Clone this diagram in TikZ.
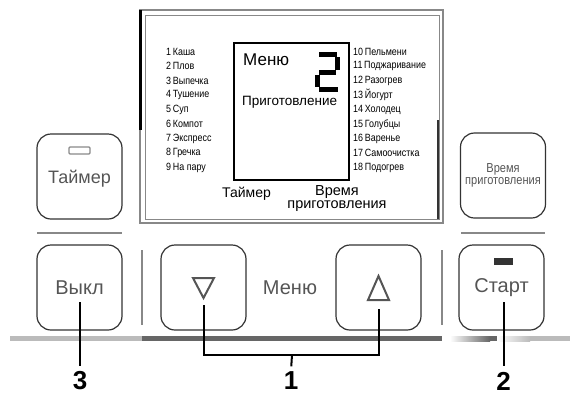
\documentclass[tikz,border=0pt]{standalone}
\usepackage{fontspec}
\setmainfont{Liberation Sans}
\newfontfamily\narrowfont{Liberation Sans}[FakeStretch=0.85]
\usepackage{xcolor}
\usepackage{tikz}
\usetikzlibrary{positioning}

\definecolor{btnline}{HTML}{333333}
\definecolor{btntext}{HTML}{555555}
\definecolor{bandlight}{HTML}{BBBBBB}
\definecolor{banddark}{HTML}{666666}
\definecolor{sepgray}{HTML}{888888}

\tikzset{
    btn/.style={draw=btnline, line width=1.2pt, rounded corners=14pt,
        minimum width=85pt, minimum height=85pt, inner sep=0pt,
        text=btntext, font=\fontsize{20}{22}\selectfont},
    listitem/.style={anchor=west, inner sep=0pt,
        font=\narrowfont\fontsize{10.5}{12}\selectfont},
    callout/.style={inner sep=1.5pt, font=\bfseries\fontsize{26}{27}\selectfont},
    leader/.style={line width=2pt, black, shorten >=4pt},
    segment/.style={line width=5pt, black}
}

\begin{document}
\begin{tikzpicture}[x=1pt, y=-1pt]
    \useasboundingbox (0,0) rectangle (570,397);

        % Display frame
        \draw[sepgray, line width=1.2pt] (140,10) rectangle (443,223);
        \draw[sepgray, line width=1pt] (145,15) rectangle (439,219);
        \draw[black, line width=3pt] (140,10) -- (140,130);
        \draw[btnline, line width=1.5pt] (438,120) -- (438,219);

        % Screen
        \draw[black, line width=1.1pt] (234,43) rectangle (349,180);
        \node[anchor=base west, inner sep=0pt, font=\fontsize{17}{19}\selectfont]
            (menu) at (243,65) {Меню};
        \node[anchor=base west, inner sep=0pt, font=\fontsize{13.5}{15}\selectfont]
            (cook) at (242,105) {Приготовление};

        % Seven-segment digit
        \draw[segment] (319,54.5) -- (337,54.5);
        \draw[segment] (337.5,57) -- (337.5,69.5);
        \draw[segment] (319,72) -- (336,72);
        \draw[segment] (317.5,74.5) -- (317.5,87);
        \draw[segment] (319,89.5) -- (338,89.5);

        % Programme lists
        \foreach \i/\name in {1/Каша, 2/Плов, 3/Выпечка, 4/Тушение, 5/Суп,
                6/Компот, 7/Экспресс, 8/Гречка, 9/На пару}
            \node[listitem] (prog\i) at (166,{51.5+14.55*(\i-1)}) {\i\,\name};
        \foreach \i/\name in {10/Пельмени, 11/Поджаривание, 12/Разогрев,
                13/Йогурт, 14/Холодец, 15/Голубцы, 16/Варенье,
                17/Самоочистка, 18/Подогрев}
            \node[listitem] (prog\i) at (353,{51.5+14.55*(\i-10)}) {\i\,\name};

        % Labels under the screen
        \node[anchor=base, inner sep=0pt, font=\fontsize{14}{15}\selectfont]
            (timerlbl) at (246.5,197) {Таймер};
        \node[align=center, inner sep=0pt, font=\fontsize{14.5}{13}\selectfont]
            (timelbl) at (337,198.5) {Время\\приготовления};

        % Upper buttons
        \node[btn, font=\fontsize{18}{20}\selectfont, text depth=0pt, yshift=-1pt]
            (timer) at (79.5,175.5) {Таймер};
        \draw[sepgray, line width=1.2pt, rounded corners=1pt] (69,147) rectangle (90,154);
        \node[btn, align=center, font=\narrowfont\fontsize{13}{12}\selectfont]
            (cooktime) at (503,175.5) {Время\\приготовления};
        \draw[sepgray, line width=2pt] (37,233) -- (122,233);
        \draw[sepgray, line width=2pt] (461,233) -- (545,233);

        % Lower buttons
        \node[btn] (off) at (79.5,287.5) {Выкл};
        \node[btn] (down) at (203.5,287.5) {};
        \node[btn] (up) at (378.5,287.5) {};
        \node[btn] (start) at (501.5,287.5) {Старт};
        \node[text=btntext, font=\fontsize{20}{22}\selectfont] (menubtn) at (290,287.5) {Меню};
        \fill[btnline] (494,258) rectangle (513,265);
        \draw[btntext, line width=2pt, line join=miter]
            (193,278) -- (214,278) -- (203.5,298) -- cycle;
        \draw[btntext, line width=2pt, line join=miter]
            (368,300) -- (389,300) -- (378.5,276) -- cycle;

        % Separators
        \draw[sepgray, line width=2pt] (142,250) -- (142,325);
        \draw[sepgray, line width=2pt] (442,250) -- (442,325);

        % Base strip
        \fill[bandlight] (10,336) rectangle (142,341);
        \fill[banddark] (142,336) rectangle (442,341);
        \shade[left color=white, right color=banddark] (450,336) rectangle (490,341);
        \fill[banddark] (490,336) rectangle (497,341);
        \shade[left color=white, right color=bandlight] (497,336) rectangle (530,341);
        \fill[bandlight] (530,336) rectangle (570,341);

        % Callouts
        \coordinate (offend) at (80,302);
        \coordinate (startend) at (503.5,302);
        \coordinate (downend) at (203.5,305);
        \coordinate (upend) at (378.5,305);
        \coordinate (join) at (292,355);
        \node[callout] (n3) at (80,381) {3};
        \node[callout] (n1) at (291,381) {1};
        \node[callout] (n2) at (503.5,381) {2};
        \draw[leader] (offend) -- (n3.north);
        \draw[leader] (startend) -- (n2.north);
        \draw[leader] (downend) |- (join) -| (upend);
        \draw[leader] (join) -- (n1.north);

    \end{tikzpicture}
\end{document}
